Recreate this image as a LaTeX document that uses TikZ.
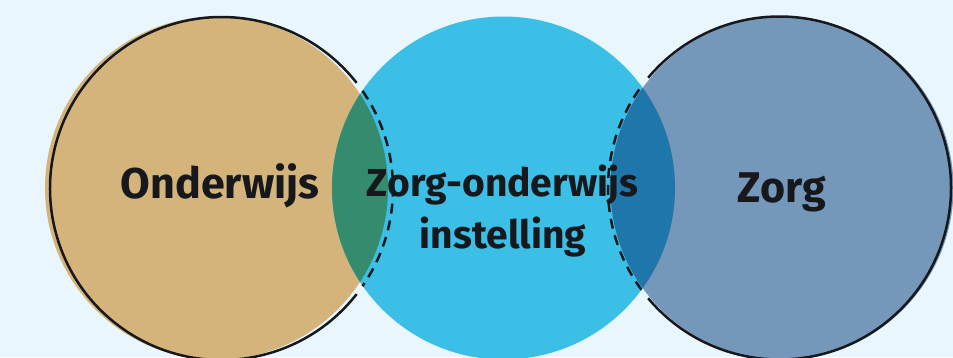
\documentclass[tikz,border=0pt]{standalone}
\usepackage{fontspec}
\setmainfont{Fira Sans}
\definecolor{bgc}{RGB}{234,246,253}
\definecolor{tanc}{RGB}{212,180,122}
\definecolor{bluec}{RGB}{59,191,230}
\definecolor{greyblue}{RGB}{117,152,186}
\definecolor{greenov}{RGB}{53,139,110}
\definecolor{darkov}{RGB}{31,118,170}
\definecolor{inkc}{RGB}{22,24,28}
\begin{document}
\begin{tikzpicture}[x=1pt,y=-1pt,
  outl/.style={line width=2.5pt, draw=inkc},
  dashl/.style={outl, dash pattern=on 10pt off 7pt},
  lbl/.style={font=\bfseries\fontsize{43}{52}\selectfont, text=inkc, anchor=base, inner sep=0pt},
  lblmid/.style={lbl, font=\bfseries\fontsize{39}{52}\selectfont}]
\useasboundingbox (0,0) rectangle (953,357);
\fill[bgc] (0,0) rectangle (953,357);
\begin{scope}
\clip (0,0) rectangle (953,357);
% fills
\fill[tanc] (216.5,188) circle[radius=171.5];
\fill[bluec] (503.5,188) circle[radius=171.5];
\fill[greyblue] (782,188) circle[radius=171.5];
\begin{scope}
  \clip (216.5,188) circle[radius=171.5];
  \fill[greenov] (503.5,188) circle[radius=171.5];
\end{scope}
\begin{scope}
  \clip (782,188) circle[radius=171.5];
  \fill[darkov] (503.5,188) circle[radius=171.5];
\end{scope}
% outlines
\coordinate (lc) at (221.5,188.5);
\coordinate (rc) at (779.5,188);
\draw[outl] (lc) ++(38:171.5) arc[start angle=38, end angle=322, radius=171.5];
\draw[dashl] (lc) ++(-34.7:171.5) arc[start angle=-34.7, end angle=34.7, radius=171.5];
\draw[outl] (rc) ++(140:171.5) arc[start angle=140, end angle=-140, radius=171.5];
\draw[dashl] (rc) ++(143.6:171.5) arc[start angle=143.6, end angle=216.4, radius=171.5];
\end{scope}
% labels
\node[lbl] (ond) at (220,198) {Onderwijs};
\node[lblmid] (zo1) at (502.5,196) {Zorg-onderwijs};
\node[lblmid] (zo2) at (503,248) {instelling};
\node[lbl] (zorg) at (782,202) {Zorg};
\end{tikzpicture}
\end{document}
